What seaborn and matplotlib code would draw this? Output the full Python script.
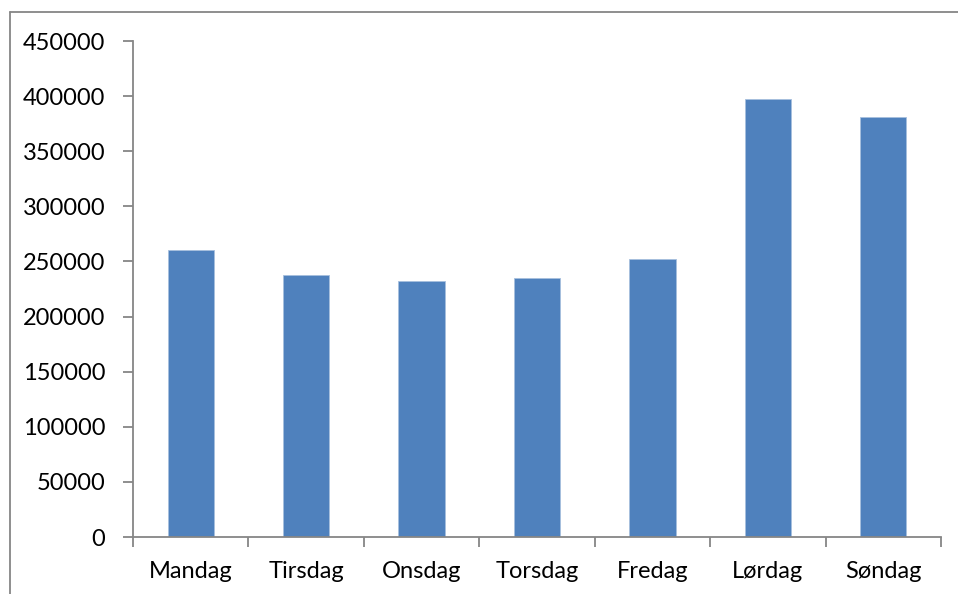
import matplotlib
matplotlib.use("Agg")
import matplotlib.pyplot as plt
from matplotlib.lines import Line2D
from matplotlib.ticker import FixedLocator
import seaborn as sns
import pandas as pd

days = ["Mandag", "Tirsdag", "Onsdag", "Torsdag", "Fredag", "Lørdag", "Søndag"]
counts = [260000, 237500, 232000, 234800, 252500, 397500, 381000]
y_ticks = [0, 50000, 100000, 150000, 200000, 250000, 300000, 350000, 400000, 450000]

sns.set_theme(style="white")
plt.rcParams["font.family"] = ["Lato", "DejaVu Sans"]

df = pd.DataFrame({"dag": days, "antall": counts})

W, H = 958, 594
fig = plt.figure(figsize=(W / 100, H / 100), dpi=100)
ax = fig.add_axes([133 / W, 1 - 537 / H, (941 - 133) / W, (537 - 41) / H])

sns.barplot(data=df, x="dag", y="antall", color="#4F81BD", saturation=1,
            width=0.4, edgecolor="#A7BFDE", linewidth=0.6, ax=ax)

ax.set_xlim(-0.5, len(days) - 0.5)
ax.set_ylim(0, 450000)
ax.set_yticks(y_ticks)
ax.set_yticklabels([str(v) for v in y_ticks])
ax.set_xlabel("")
ax.set_ylabel("")

axis_grey = "#868686"
for side in ("top", "right"):
    ax.spines[side].set_visible(False)
for side in ("left", "bottom"):
    ax.spines[side].set_color(axis_grey)
    ax.spines[side].set_linewidth(1.3)

# category boundary ticks on the x axis, labels centred between them
ax.xaxis.set_minor_locator(FixedLocator([i - 0.5 for i in range(len(days) + 1)]))
ax.tick_params(axis="x", which="major", length=0, pad=17, labelsize=17, labelcolor="black")
ax.tick_params(axis="x", which="minor", length=7, width=1.3, color=axis_grey, direction="out", bottom=True)
ax.tick_params(axis="y", which="major", length=7, width=1.3, color=axis_grey, direction="out",
               left=True, pad=13, labelsize=17, labelcolor="black")

# outer chart frame
fig.add_artist(Line2D([10 / W, 10 / W], [0, 1 - 11.5 / H], transform=fig.transFigure,
                      color=axis_grey, linewidth=1.3))
fig.add_artist(Line2D([10 / W, 1], [1 - 11.5 / H, 1 - 11.5 / H], transform=fig.transFigure,
                      color=axis_grey, linewidth=1.3))

fig.savefig("out.png", dpi=100)
